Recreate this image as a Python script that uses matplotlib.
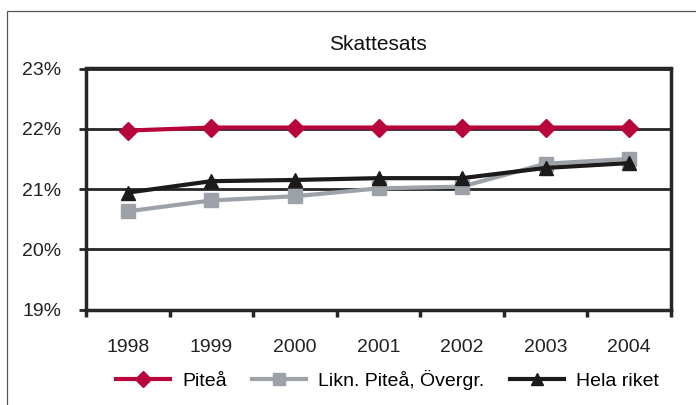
import matplotlib
matplotlib.use('Agg')
import matplotlib.pyplot as plt
import matplotlib.patches as mpatches
from matplotlib.ticker import FixedLocator

plt.rcParams['font.family'] = ['Liberation Sans', 'DejaVu Sans']

years = ['1998', '1999', '2000', '2001', '2002', '2003', '2004']
pitea = [21.97, 22.02, 22.02, 22.02, 22.02, 22.02, 22.02]
likn_pitea = [20.63, 20.81, 20.88, 21.01, 21.04, 21.42, 21.50]
hela_riket = [20.94, 21.13, 21.15, 21.18, 21.18, 21.35, 21.43]
yticks = [19, 20, 21, 22, 23]

red = '#b8063c'
grey = '#9ca2a8'
black = '#1c1a1b'
dark = '#262626'

fig = plt.figure(figsize=(6.96, 4.05), dpi=100)
ax = fig.add_axes([86/696, 1-309.5/405, (671-86)/696, (309.5-68.5)/405])

# outer frame (only left/top visible in the crop)
fig.patches.append(mpatches.Rectangle((7/696, -0.1), 1.2, 1-11/405+0.1,
                                      transform=fig.transFigure, fill=False,
                                      edgecolor='#555555', lw=0.9))

x = range(len(years))
ax.plot(x, pitea, color=red, lw=3, marker='D', ms=9.5, label='Piteå', zorder=3)
ax.plot(x, likn_pitea, color=grey, lw=3, marker='s', ms=10.5,
        label='Likn. Piteå, Övergr.', zorder=3)
ax.plot(x, hela_riket, color=black, lw=3, marker='^', ms=10.5,
        label='Hela riket', zorder=4)

ax.set_xlim(-0.5, len(years) - 0.5)
ax.set_ylim(19, 23)
ax.set_yticks(yticks)
ax.set_yticklabels([f'{v}%' for v in yticks])
ax.set_xticks(list(x))
ax.set_xticklabels(years)
ax.xaxis.set_minor_locator(FixedLocator([i - 0.5 for i in range(len(years) + 1)]))

for v in yticks:
    ax.axhline(v, color=dark, lw=2, zorder=1)
for s in ax.spines.values():
    s.set_color(dark)
    s.set_linewidth(2.5)

ax.tick_params(axis='x', which='major', length=0, pad=21, labelsize=14, colors='#222222')
ax.tick_params(axis='x', which='minor', length=5, width=2.5, color=dark)
ax.tick_params(axis='y', length=5, width=2, color=dark, pad=13, labelsize=14,
               labelcolor='#222222')

fig.text(378/696, 1-50/405, 'Skattesats', ha='center', va='baseline', fontsize=15,
         color='#111111')

fig.legend(loc='center left', bbox_to_anchor=(116/696, 1-380/405), ncol=3,
           frameon=False, fontsize=14, borderpad=0, borderaxespad=0,
           handlelength=2.8, handletextpad=0.6, columnspacing=1.3, markerscale=0.85)

fig.savefig('out.png', dpi=100)
